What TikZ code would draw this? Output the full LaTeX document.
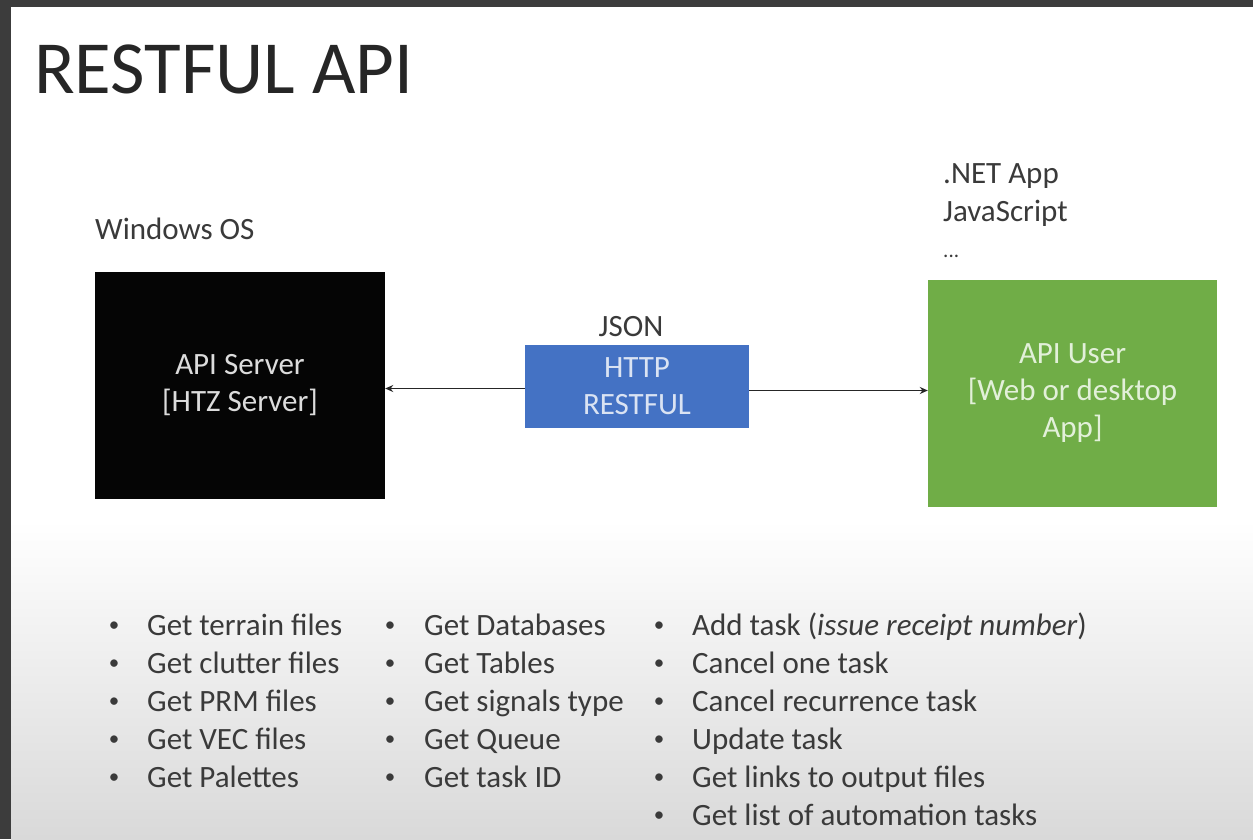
\documentclass[tikz,border=0pt]{standalone}
\usepackage{fontspec}
\setmainfont{Carlito}
\usetikzlibrary{arrows.meta}
\definecolor{framegray}{HTML}{3C3C3C}
\definecolor{slidegray}{HTML}{D9D9D9}
\definecolor{ink}{HTML}{3A3A3A}
\definecolor{titleink}{HTML}{262626}
\definecolor{srvfill}{HTML}{050505}
\definecolor{srvtext}{HTML}{DCDCDC}
\definecolor{httpfill}{HTML}{4472C4}
\definecolor{httptext}{HTML}{DAE3F3}
\definecolor{userfill}{HTML}{70AD47}
\definecolor{usertext}{HTML}{E2F0D9}
\definecolor{wire}{HTML}{262626}
\tikzset{
  body/.style={font=\fontsize{31}{37}\selectfont, text=ink, inner sep=0pt},
  dot/.style={font=\fontsize{21}{24}\selectfont, text=ink, inner sep=0pt},
  boxnode/.style={font=\fontsize{31}{37}\selectfont, align=center, inner sep=0pt},
  conn/.style={draw=wire, line width=1.8pt, -{Stealth[length=8pt,width=7pt]}},
}
\begin{document}
\begin{tikzpicture}[x=1pt,y=-1pt]
\useasboundingbox (0,0) rectangle (1253,839);
% slide frame and background
\fill[framegray] (0,0) rectangle (1253,839);
\fill[white] (11,7) rectangle (1253,521);
\shade[top color=white, bottom color=slidegray] (11,520) rectangle (1253,839);

% title
\node[anchor=base west, inner sep=0pt, text=titleink,
      font=\fontsize{75}{82}\selectfont] (title) at (34,93) {RESTFUL API};

% platform labels
\node[body, anchor=base west] (winos) at (95,239) {Windows OS};
\node[body, anchor=base west] (netapp) at (943,183) {.NET App};
\node[body, anchor=base west] (jscript) at (943,221) {JavaScript};
\node[dot, anchor=base west] (more) at (943,257) {...};

% boxes
\node[boxnode, fill=srvfill, text=srvtext, minimum width=290pt, minimum height=227pt]
  (srv) at (240,385.5) {API Server\\{}[HTZ Server]};
\node[boxnode, fill=httpfill, text=httptext, minimum width=224pt, minimum height=83pt]
  (http) at (637,386.5) {HTTP\\RESTFUL};
\node[boxnode, fill=userfill, text=usertext, minimum width=289pt, minimum height=227pt]
  (usr) at (1072.5,393.5) {API User\\{}[Web or desktop\\App]};
\node[body, anchor=base] (json) at (631,336) {JSON};

% connectors
\coordinate (la) at ([yshift=-2pt]http.west);
\coordinate (ra) at ([yshift=-4pt]http.east);
\draw[conn] (la) -- (la -| srv.east);
\draw[conn] (ra) -- (ra -| usr.west);

% request lists
\foreach \t [count=\i] in {Get terrain files, Get clutter files, Get PRM files,
                           Get VEC files, Get Palettes} {
  \node[dot, anchor=base] (c1b\i) at (114,{631+(\i-1)*38}) {•};
  \node[body, anchor=base west] (c1t\i) at (147,{635+(\i-1)*38}) {\t};
}
\foreach \t [count=\i] in {Get Databases, Get Tables, Get signals type,
                           Get Queue, Get task ID} {
  \node[dot, anchor=base] (c2b\i) at (390,{631+(\i-1)*38}) {•};
  \node[body, anchor=base west] (c2t\i) at (424,{635+(\i-1)*38}) {\t};
}
\foreach \t [count=\i] in {{Add task (\textit{issue receipt number})}, Cancel one task,
                           Cancel recurrence task, Update task,
                           Get links to output files, Get list of automation tasks} {
  \node[dot, anchor=base] (c3b\i) at (659,{631+(\i-1)*38}) {•};
  \node[body, anchor=base west] (c3t\i) at (692,{635+(\i-1)*38}) {\t};
}
\end{tikzpicture}
\end{document}
